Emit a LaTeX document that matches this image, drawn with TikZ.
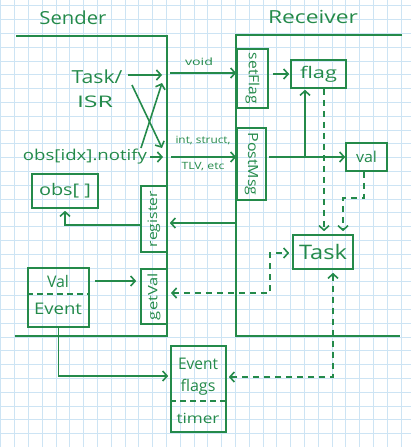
\documentclass[tikz,border=0pt]{standalone}
\usepackage{fontspec}
\setmainfont{Open Sans}
\usepackage{graphicx}
\usetikzlibrary{arrows.meta,calc}
\definecolor{ink}{RGB}{36,138,74}
\definecolor{gridc}{RGB}{205,228,244}
\newcommand{\hw}[3]{{\fontsize{#1}{#1}\selectfont\resizebox{#2pt}{\height}{#3}}}
\begin{document}
\begin{tikzpicture}[x=1pt,y=-1pt,
  inkline/.style={draw=ink,line width=1.6pt},
  box/.style={draw=ink,line width=1.6pt,inner sep=0pt,text=ink},
  txt/.style={inner sep=0pt,text=ink},
  arr/.style={draw=ink,line width=1.6pt,-{Straight Barb[length=4.5pt,width=10pt]}},
  darr/.style={arr,dash pattern=on 6pt off 5pt},
  dboth/.style={draw=ink,line width=1.6pt,dash pattern=on 6pt off 5pt,{Straight Barb[length=4.5pt,width=10pt]}-{Straight Barb[length=4.5pt,width=10pt]}}]
\useasboundingbox (0,0) rectangle (411,447);
\fill[white] (0,0) rectangle (411,447);
% graph paper grid
\foreach \i in {0,...,29} {\draw[gridc,line width=0.7pt] ({0.7+13.8*\i},0) -- ({0.7+13.8*\i},447);}
\foreach \j in {0,...,32} {\draw[gridc,line width=0.7pt] (0,{5.7+13.8*\j}) -- (411,{5.7+13.8*\j});}

% titles
\node[txt] (sender) at (73,18) {\hw{18}{67}{Sender}};
\node[txt] (receiver) at (313,17) {\hw{18}{90}{Receiver}};

% region borders
\draw[inkline] (16,36) -- (167,36) -- (167,336) -- (15,336);
\draw[inkline] (402,35) -- (236,35) -- (236,336) -- (400,336);

% receiver boxes
\node[box,minimum width=31,minimum height=59] (setflag) at (252.5,78.5) {\rotatebox{-90}{\hw{14}{51}{setFlag}}};
\node[box,minimum width=29,minimum height=72] (postmsg) at (251.5,164) {\rotatebox{-90}{\hw{14}{63}{PostMsg}}};
\node[box,minimum width=55,minimum height=28] (flag) at (318.5,74) {\hw{16}{37}{flag}};
\node[box,minimum width=41,minimum height=28] (val) at (366.5,157) {\hw{15}{21}{val}};
\node[box,minimum width=60,minimum height=34] (task) at (323,252) {\hw{20}{48}{Task}};

% sender boxes
\node[box,minimum width=26,minimum height=66] (register) at (154,219) {\rotatebox{90}{\hw{13}{56}{register}}};
\node[box,minimum width=26,minimum height=55] (getval) at (154,296.5) {\rotatebox{90}{\hw{13}{47}{getVal}}};
\node[box,minimum width=66,minimum height=34] (obs) at (65,191) {\hw{16}{52}{obs[ ]}};
\node[box,minimum width=61,minimum height=59] (valev) at (58.5,297.5) {};
\draw[draw=ink,line width=1.3pt,dash pattern=on 6pt off 4pt] ($(valev.west)+(0,-3.5)$) -- ($(valev.east)+(0,-3.5)$);
\node[txt] (valtxt) at (58,281) {\hw{16}{22}{Val}};
\node[txt] (eventtxt) at (58,309) {\hw{16}{48}{Event}};

% event flags box
\node[box,minimum width=55,minimum height=86] (evf) at (198.5,389) {};
\draw[draw=ink,line width=1.3pt,dash pattern=on 6pt off 4pt] ($(evf.west)+(0,12)$) -- ($(evf.east)+(0,12)$);
\node[txt] (evtxt) at (198,364) {\hw{16}{40}{Event}};
\node[txt] (flagstxt) at (198,387) {\hw{16}{35}{flags}};
\node[txt] (timertxt) at (198,418) {\hw{14}{43}{timer}};

% sender texts
\node[txt] (taskisr) at (97,77) {\hw{18}{51}{Task/}};
\node[txt] (isr) at (95,102) {\hw{16}{36}{ISR}};
\node[txt] (notify) at (85,157) {\hw{15}{124}{obs[idx].notify}};

% channel labels
\node[txt] (void) at (199,62) {\hw{10}{28}{void}};
\node[txt] (intstruct) at (203,140) {\hw{10}{55}{int, struct,}};
\node[txt] (tlv) at (203,167) {\hw{10}{43}{TLV, etc}};

% coordinates
\coordinate (a1e) at (162,75);
\coordinate (x1s) at (132,85);
\coordinate (x1e) at (162,148);
\coordinate (x2s) at (141,148);
\coordinate (x2e) at (162,83);
\coordinate (n1e) at (163,157);
\coordinate (v1) at (170,73);
\coordinate (p1) at (171,157);
\coordinate (j) at (305,157);
\coordinate (fd) at ($(flag.south)+(5.5,0)$);
\coordinate (vd) at ($(val.south)+(-2.5,0)$);
\coordinate (vk) at (343,198);
\coordinate (r1) at (236,223);
\coordinate (g1) at (171,293);
\coordinate (g2) at (270,293);

% connectors
\draw[arr] ($(taskisr.east)+(5,-2)$) -- (a1e);
\draw[arr] (x1s) -- (x1e);
\draw[arr] (x2s) -- (x2e);
\draw[arr] ($(notify.east)+(3,0)$) -- (n1e);
\draw[arr] (v1) -- (v1 -| setflag.west);
\draw[arr] (p1) -- (p1 -| postmsg.west);
\draw[arr] ($(setflag.east |- flag.west)+(4,0)$) -- ($(flag.west)+(-1,0)$);
\draw[arr] ($(postmsg.east |- val.west)+(2,0)$) -- (val.west);
\draw[arr,shorten >=1pt] (j) -- (j |- flag.south);
\draw[darr,shorten >=3pt] (fd) -- (fd |- task.north);
\draw[darr,shorten >=3pt] (vd) |- (vk) -- (vk |- task.north);
\draw[arr,shorten >=2pt] (r1) -- (r1 -| register.east);
\draw[arr,shorten >=2pt] ($(register.west)+(0,6)$) -| (obs.south);
\draw[arr] ($(valev.east |- valtxt)+(5,0)$) -- ($(getval.west |- valtxt)+(-4,0)$);
\draw[dboth] (g1) -- (g2) |- ($(task.west)+(-3,1)$);
\draw[arr] (valev.south) |- ($(evf.west)+(-2,-13)$);
\draw[dboth] ($(task.south)+(10,3)$) |- ($(evf.east)+(2,-12)$);
\end{tikzpicture}
\end{document}
